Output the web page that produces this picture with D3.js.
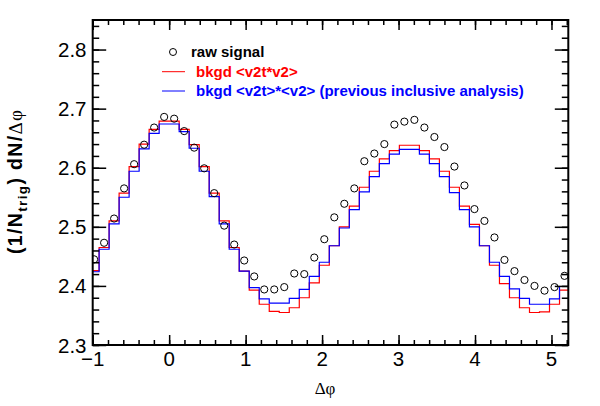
<!DOCTYPE html>
<html>
<head>
<meta charset="utf-8">
<script src="https://cdn.jsdelivr.net/npm/d3@7"></script>
<style>
  html, body { margin: 0; padding: 0; background: #fff; }
  svg { display: block; }
</style>
</head>
<body>
<svg id="chart" width="600" height="406"></svg>
<script>
// ---- data (48 bins of width pi/24 starting at -pi/3) ----
const binStart = -Math.PI / 3;
const binWidth = Math.PI / 24;

const rawSignal = [
  2.445, 2.473, 2.514, 2.565, 2.606, 2.639, 2.668, 2.686, 2.683, 2.662,
  2.634, 2.599, 2.557, 2.502, 2.470, 2.443, 2.416, 2.394, 2.394, 2.398,
  2.421, 2.420, 2.448, 2.479, 2.516, 2.539, 2.565, 2.611, 2.624, 2.640,
  2.673, 2.678, 2.681, 2.668, 2.652, 2.635, 2.602, 2.570, 2.530, 2.510,
  2.482, 2.444, 2.425, 2.410, 2.400, 2.392, 2.398, 2.417
];
const bkgdV2tV2 = [
  2.426, 2.465, 2.510, 2.557, 2.602, 2.640, 2.665, 2.679, 2.679, 2.665,
  2.639, 2.602, 2.557, 2.510, 2.465, 2.425, 2.393, 2.369, 2.357, 2.355,
  2.363, 2.380, 2.405, 2.435, 2.468, 2.500, 2.535, 2.567, 2.594, 2.615,
  2.629, 2.638, 2.638, 2.629, 2.615, 2.594, 2.567, 2.535, 2.504, 2.468,
  2.435, 2.404, 2.380, 2.363, 2.355, 2.356, 2.369, 2.393
];
const bkgdInclusive = [
  2.424, 2.462, 2.505, 2.550, 2.594, 2.632, 2.658, 2.674, 2.674, 2.661,
  2.633, 2.594, 2.551, 2.505, 2.462, 2.425, 2.397, 2.378, 2.371, 2.371,
  2.379, 2.394, 2.416, 2.440, 2.468, 2.498, 2.529, 2.559, 2.585, 2.607,
  2.623, 2.631, 2.631, 2.623, 2.607, 2.585, 2.558, 2.529, 2.500, 2.468,
  2.440, 2.416, 2.395, 2.379, 2.369, 2.369, 2.378, 2.399
];
const xTickValues = [-1, 0, 1, 2, 3, 4, 5];
const yTickValues = [2.3, 2.4, 2.5, 2.6, 2.7, 2.8];
const legendLabels = ["raw signal", "bkgd <v2t*v2>", "bkgd <v2t>*<v2> (previous inclusive analysis)"];

// ---- layout ----
const L = 92.7, R = 568.3, T = 20, B = 345;
const x = d3.scaleLinear().domain([-1, 5.22]).range([L, R]);
const y = d3.scaleLinear().domain([2.3, 2.85]).range([B, T]);

const svg = d3.select("#chart");
svg.append("defs").append("clipPath").attr("id", "plotclip")
  .append("rect").attr("x", L).attr("y", T).attr("width", R - L).attr("height", B - T);

const centers = rawSignal.map((_, i) => binStart + (i + 0.5) * binWidth);

function histPoints(vals) {
  const pts = vals.map((v, i) => [centers[i], v]);
  pts.unshift([binStart, vals[0]]);
  pts.push([binStart + vals.length * binWidth, vals[vals.length - 1]]);
  return pts;
}
const stepLine = d3.line().x(d => x(d[0])).y(d => y(d[1])).curve(d3.curveStep);

const plot = svg.append("g").attr("clip-path", "url(#plotclip)");
plot.append("path").attr("d", stepLine(histPoints(bkgdV2tV2)))
  .attr("fill", "none").attr("stroke", "#ff0000").attr("stroke-width", 1.2);
plot.append("path").attr("d", stepLine(histPoints(bkgdInclusive)))
  .attr("fill", "none").attr("stroke", "#0000ff").attr("stroke-width", 1.2);
plot.selectAll("circle.raw").data(rawSignal).enter().append("circle")
  .attr("class", "raw")
  .attr("cx", (d, i) => x(centers[i])).attr("cy", d => y(d))
  .attr("r", 3.6).attr("fill", "none").attr("stroke", "#000").attr("stroke-width", 1);

// ---- axes ----
const axisColor = "#000";
const font = "'Liberation Sans', Arial, Helvetica, sans-serif";

function ticks(axisGen, tr) {
  const g = svg.append("g").attr("transform", tr).call(axisGen);
  g.select(".domain").remove();
  g.selectAll("line").attr("stroke", axisColor).attr("stroke-width", 1.5);
  return g;
}
const xMinor = d3.range(-1, 5.221, 0.2).map(v => +v.toFixed(2));
const yMinor = d3.range(2.3, 2.851, 0.02).map(v => +v.toFixed(2));

// bottom
ticks(d3.axisTop(x).tickValues(xMinor).tickSize(5).tickFormat(""), `translate(0,${B})`);
const xb = ticks(d3.axisTop(x).tickValues(xTickValues).tickSize(10).tickFormat(d3.format("d")), `translate(0,${B})`);
xb.selectAll("text").remove();
// top
ticks(d3.axisBottom(x).tickValues(xMinor).tickSize(5).tickFormat(""), `translate(0,${T})`);
ticks(d3.axisBottom(x).tickValues(xTickValues).tickSize(10).tickFormat(""), `translate(0,${T})`);
// left
ticks(d3.axisRight(y).tickValues(yMinor).tickSize(6.5).tickFormat(""), `translate(${L},0)`);
const yl = ticks(d3.axisRight(y).tickValues(yTickValues).tickSize(13.5).tickFormat(d3.format(".1f")), `translate(${L},0)`);
yl.selectAll("text").remove();
// right
ticks(d3.axisLeft(y).tickValues(yMinor).tickSize(6.5).tickFormat(""), `translate(${R},0)`);
ticks(d3.axisLeft(y).tickValues(yTickValues).tickSize(13.5).tickFormat(""), `translate(${R},0)`);

// tick labels
svg.append("g").selectAll("text").data(xTickValues).enter().append("text")
  .attr("x", d => x(d)).attr("y", 366)
  .attr("text-anchor", "middle").attr("font-family", font).attr("font-size", 20.5)
  .attr("fill", "#000").text(d => d3.format("d")(d));
svg.append("g").selectAll("text").data(yTickValues).enter().append("text")
  .attr("x", 86.5).attr("y", d => y(d) + 7.5)
  .attr("text-anchor", "end").attr("font-family", font).attr("font-size", 20.5)
  .attr("fill", "#000").text(d => d3.format(".1f")(d));

// frame
svg.append("rect").attr("x", L).attr("y", T).attr("width", R - L).attr("height", B - T)
  .attr("fill", "none").attr("stroke", axisColor).attr("stroke-width", 2);

// axis titles
const serif = "'Liberation Serif', 'Times New Roman', serif";
svg.append("text").attr("x", 325).attr("y", 393.5).attr("text-anchor", "middle")
  .attr("font-family", serif).attr("font-size", 17).attr("fill", "#000").text("Δφ");

const yt = svg.append("text")
  .attr("transform", "translate(22,254) rotate(-90)")
  .attr("font-family", font).attr("font-weight", "bold").attr("font-size", 19.5).attr("fill", "#000")
  .attr("textLength", 144).attr("lengthAdjust", "spacing");
yt.append("tspan").text("(1/N");
yt.append("tspan").attr("font-size", 13.5).attr("dy", 5).text("trig");
yt.append("tspan").attr("dy", -5).text(") dN/");
yt.append("tspan").attr("font-family", serif).attr("font-weight", "normal").attr("font-size", 19).text("Δφ");

// ---- legend ----
const leg = svg.append("g").attr("font-family", font).attr("font-weight", "bold").attr("font-size", 15);
leg.append("circle").attr("cx", 173).attr("cy", 52).attr("r", 3.5)
  .attr("fill", "none").attr("stroke", "#000").attr("stroke-width", 1);
leg.append("text").attr("x", 191).attr("y", 56.5).attr("fill", "#000").text(legendLabels[0]);
leg.append("line").attr("x1", 162).attr("x2", 185).attr("y1", 71.7).attr("y2", 71.7)
  .attr("stroke", "#ff0000").attr("stroke-width", 1);
leg.append("text").attr("x", 196).attr("y", 77).attr("fill", "#ff0000").text(legendLabels[1]);
leg.append("line").attr("x1", 162).attr("x2", 185).attr("y1", 91).attr("y2", 91)
  .attr("stroke", "#0000ff").attr("stroke-width", 1);
leg.append("text").attr("x", 196).attr("y", 96).attr("fill", "#0000ff").text(legendLabels[2]);
</script>
</body>
</html>
